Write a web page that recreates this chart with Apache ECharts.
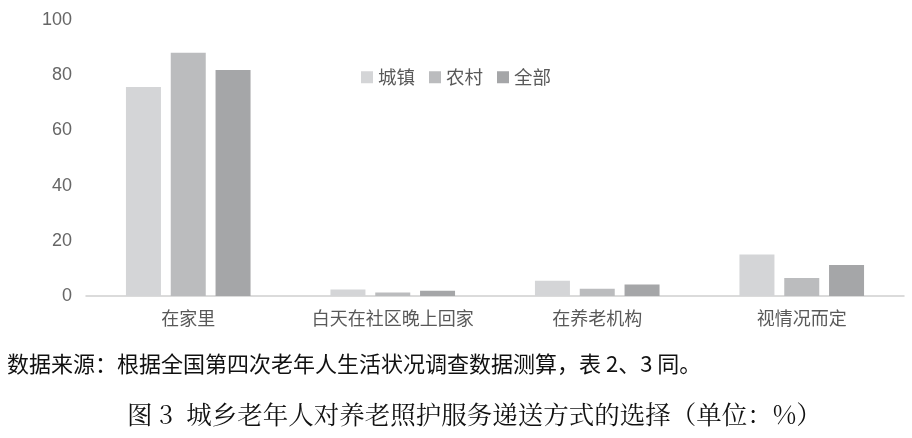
<!DOCTYPE html>
<html>
<head>
<meta charset="utf-8">
<script src="https://cdn.jsdelivr.net/npm/echarts@6/dist/echarts.min.js"></script>
<style>
  html, body { margin: 0; padding: 0; background: #fff; }
  #main { width: 912px; height: 438px; }
</style>
</head>
<body>
<div id="main"></div>
<script>
var categories = ['在家里', '白天在社区晚上回家', '在养老机构', '视情况而定'];
var seriesNames = ['城镇', '农村', '全部'];
var urban = [75.7, 2.4, 5.5, 15.0];
var rural = [88.1, 1.3, 2.6, 6.5];
var total = [81.9, 1.9, 4.2, 11.2];
var yTicks = { min: 0, max: 100, interval: 20 };
var colors = ['#d4d5d7', '#bbbcbe', '#a5a6a8'];
var sourceText = '数据来源：根据全国第四次老年人生活状况调查数据测算，表 2、3 同。';
var titleText = '图 3  城乡老年人对养老照护服务递送方式的选择（单位：%）';

var myChart = echarts.init(document.getElementById('main'));
var font = '"Noto Sans CJK SC", "Liberation Sans", sans-serif';

function bar(name, data, color) {
  return {
    name: name,
    type: 'bar',
    data: data,
    barWidth: 35,
    barGap: '28%',
    itemStyle: { color: color },
    emphasis: { disabled: true }
  };
}

myChart.setOption({
  animation: false,
  textStyle: { fontFamily: font },
  grid: { left: 86, right: 8, top: 20, bottom: 142 },
  legend: {
    left: 356,
    top: 63,
    icon: 'rect',
    itemWidth: 12,
    itemHeight: 12,
    itemGap: 14,
    textStyle: { fontSize: 18.5, color: '#595959', fontFamily: font },
    data: seriesNames
  },
  xAxis: {
    type: 'category',
    data: categories,
    axisLine: { lineStyle: { color: '#d0d0d0', width: 1.5 } },
    axisTick: { show: false },
    axisLabel: { fontSize: 18, color: '#595959', margin: 13, interval: 0 }
  },
  yAxis: {
    type: 'value',
    min: yTicks.min,
    max: yTicks.max,
    interval: yTicks.interval,
    splitLine: { show: false },
    axisLine: { show: false },
    axisTick: { show: false },
    axisLabel: { fontSize: 18, color: '#666', margin: 14, fontFamily: '"Liberation Sans", sans-serif' }
  },
  series: [
    bar(seriesNames[0], urban, colors[0]),
    bar(seriesNames[1], rural, colors[1]),
    bar(seriesNames[2], total, colors[2])
  ],
  graphic: [
    {
      type: 'text',
      left: 7,
      top: 353,
      style: { text: sourceText, fontSize: 22, fill: '#111', fontFamily: font }
    },
    {
      type: 'text',
      left: 127,
      top: 402,
      style: { text: titleText, fontSize: 25.5, fill: '#111', fontFamily: '"Noto Serif CJK SC", "Noto Sans CJK SC", serif' }
    }
  ]
});
</script>
</body>
</html>
